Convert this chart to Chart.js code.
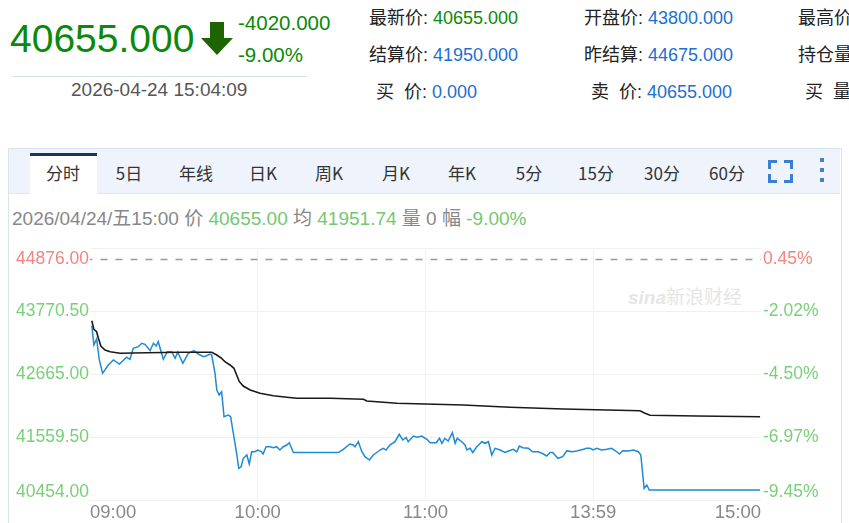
<!DOCTYPE html>
<html>
<head>
<meta charset="utf-8">
<script src="https://cdn.jsdelivr.net/npm/chart.js@4.4.1/dist/chart.umd.min.js"></script>
<style>
  html, body { margin: 0; padding: 0; background: #fff; }
  body { width: 849px; height: 523px; position: relative; overflow: hidden;
         font-family: "Liberation Sans", "Noto Sans CJK SC", sans-serif; }
  .abs { position: absolute; white-space: nowrap; }
  .cn { font-family: "Liberation Sans", "Noto Sans CJK SC", sans-serif; }
  .lab { color: #222; }
  .val { color: #1d6fd1; }
  .up { color: #0a8a0a; }
  #panel { position: absolute; left: 8px; top: 148px; width: 832px; height: 380px;
           border-left: 1px solid #d9e3f0; border-top: 1px solid #d9e3f0; border-right: 1px solid #d9e3f0; }
  #tabs { position: absolute; left: 9px; top: 149px; width: 831px; height: 44px; background: #eef3fc;
          border-bottom: 1px solid #dfe7f2; }
  .tab { position: absolute; top: 160px; font-size: 17px; color: #333; transform: translateX(-50%);
         font-family: "Noto Sans CJK SC", sans-serif; }
  #sel { position: absolute; left: 30px; top: 153px; width: 67px; height: 41px; background: #fff;
         border-top: 3px solid #1b3462; box-sizing: border-box; }
  .corner { position: absolute; width: 6px; height: 6px; border-color: #3a7fd5; border-style: solid; border-width: 0; }
  .dot { position: absolute; left: 820px; width: 4px; height: 4px; background: #4d7fc0; }
  #wrap { position: absolute; left: 8px; top: 236px; width: 841px; height: 287px; }
</style>
</head>
<body>

<!-- quote header -->
<div class="abs up" style="left:10px;top:17px;font-size:39px;">40655.000</div>
<svg class="abs" style="left:200px;top:22px" width="34" height="34" viewBox="0 0 34 34">
  <polygon points="10,0 24,0 24,16 33,16 17,33 1,16 10,16" fill="#1f6402"/>
</svg>
<div class="abs up" style="left:238px;top:11px;font-size:20.5px;">-4020.000</div>
<div class="abs up" style="left:238px;top:43px;font-size:20.5px;">-9.00%</div>
<div class="abs" style="left:12px;top:76px;width:295px;height:1px;background:#d5e0ea;"></div>
<div class="abs" style="left:71px;top:79px;font-size:19px;color:#555;">2026-04-24 15:04:09</div>

<div class="abs cn" style="left:369px;top:3px;font-size:18px;"><span class="lab">最新价: </span><span class="up">40655.000</span></div>
<div class="abs cn" style="left:584px;top:3px;font-size:18px;"><span class="lab">开盘价: </span><span class="val">43800.000</span></div>
<div class="abs cn" style="left:798px;top:3px;font-size:18px;"><span class="lab">最高价</span></div>
<div class="abs cn" style="left:369px;top:40px;font-size:18px;"><span class="lab">结算价: </span><span class="val">41950.000</span></div>
<div class="abs cn" style="left:584px;top:40px;font-size:18px;"><span class="lab">昨结算: </span><span class="val">44675.000</span></div>
<div class="abs cn" style="left:798px;top:40px;font-size:18px;"><span class="lab">持仓量</span></div>
<div class="abs cn" style="left:376px;top:77px;font-size:18px;"><span class="lab">买&nbsp;&nbsp;价: </span><span class="val">0.000</span></div>
<div class="abs cn" style="left:591px;top:77px;font-size:18px;"><span class="lab">卖&nbsp;&nbsp;价: </span><span class="val">40655.000</span></div>
<div class="abs cn" style="left:805px;top:77px;font-size:18px;"><span class="lab">买&nbsp;&nbsp;量</span></div>

<!-- chart panel frame and tabs -->
<div id="panel"></div>
<div id="tabs"></div>
<div id="sel"></div>
<div class="tab" style="left:63px;">分时</div>
<div class="tab" style="left:129px;">5日</div>
<div class="tab" style="left:196px;">年线</div>
<div class="tab" style="left:263px;">日K</div>
<div class="tab" style="left:329px;">周K</div>
<div class="tab" style="left:396px;">月K</div>
<div class="tab" style="left:462px;">年K</div>
<div class="tab" style="left:529px;">5分</div>
<div class="tab" style="left:596px;">15分</div>
<div class="tab" style="left:662px;">30分</div>
<div class="tab" style="left:727px;">60分</div>
<div class="corner" style="left:768px;top:160px;border-left-width:3px;border-top-width:3px;"></div>
<div class="corner" style="left:784px;top:160px;border-right-width:3px;border-top-width:3px;"></div>
<div class="corner" style="left:768px;top:174px;border-left-width:3px;border-bottom-width:3px;"></div>
<div class="corner" style="left:784px;top:174px;border-right-width:3px;border-bottom-width:3px;"></div>
<div class="dot" style="top:158px;"></div>
<div class="dot" style="top:168px;"></div>
<div class="dot" style="top:178px;"></div>

<div class="abs cn" style="left:12px;top:203px;font-size:19px;color:#888;">2026/04/24/五15:00 价 <span style="color:#72c872">40655.00</span> 均 <span style="color:#72c872">41951.74</span> 量 0 幅 <span style="color:#72c872">-9.00%</span></div>

<div class="abs cn" style="left:628px;top:282px;font-size:19px;color:#e6e6e6;"><i style="font-weight:bold">sina</i>新浪财经</div>

<div id="wrap"><canvas id="chart"></canvas></div>

<script>
(function () {
  "use strict";

  // x runs in session minutes; labels sit at the quarter marks
  const X_LABELS = ["09:00", "10:00", "11:00", "13:59", "15:00"];
  const X_MAX = 223.3;

  const Y_TICKS = [40454.00, 41559.50, 42665.00, 43770.50, 44876.00];
  const PREV_SETTLE = 44675;

  // last price (blue)
  const PRICE_T = [0.6, 1.3, 2.2, 3.1, 4.2, 6.1, 7.8, 9.8, 12.2, 13.3, 14.4, 16.1, 17.2, 18.3, 20.0,
    21.1, 22.0, 22.7, 24.4, 25.7, 27.2, 28.3, 29.2, 30.9, 32.7, 34.6, 36.0, 37.7, 38.8, 39.9, 40.5,
    41.6, 42.2, 43.0, 43.8, 44.6, 46.0, 46.8, 47.7, 48.8, 49.5, 50.3, 51.0, 52.2, 53.0, 53.8, 54.9,
    55.8, 57.1, 57.6, 58.6, 59.9, 61.0, 62.1, 63.2, 64.3, 65.5, 66.3, 67.7, 82.6, 84.3, 86.5, 87.6,
    88.2, 89.3, 90.4, 91.5, 93.0, 94.3, 96.5, 97.6, 98.5, 99.8, 101.5, 102.9, 104.1, 105.2, 105.9,
    107.6, 108.9, 110.4, 112.1, 113.2, 115.2, 116.3, 117.1, 118.1, 119.2, 120.6, 121.5, 122.2, 123.7,
    124.8, 125.4, 126.5, 127.4, 128.7, 130.4, 131.5, 132.6, 133.7, 134.8, 136.5, 138.1, 139.5, 140.9,
    142.0, 142.9, 144.0, 145.9, 147.3, 149.2, 150.9, 152.0, 153.1, 154.0, 155.7, 157.3, 158.7, 160.3,
    162.0, 164.2, 165.3, 166.4, 167.5, 168.6, 170.3, 172.0, 173.6, 175.3, 176.2, 177.3, 179.2, 180.8,
    182.5, 183.3, 183.8, 184.4, 185.3, 186.1, 223.0];
  const PRICE_V = [43513, 43174, 43279, 42911, 42677, 42823, 42911, 42840, 42958, 42923, 43116, 43144,
    43204, 43186, 43074, 43204, 43156, 43232, 42923, 43056, 43056, 42940, 43046, 42853, 43028, 43074,
    43016, 42969, 42986, 43016, 42998, 42677, 42384, 42296, 42354, 41916, 41945, 41916, 41624, 41273,
    41010, 41038, 41186, 41244, 41086, 41301, 41301, 41331, 41301, 41261, 41389, 41389, 41372, 41389,
    41331, 41389, 41419, 41459, 41287, 41287, 41344, 41437, 41419, 41389, 41477, 41310, 41214, 41156,
    41244, 41331, 41361, 41331, 41419, 41477, 41607, 41507, 41554, 41477, 41577, 41554, 41577, 41519,
    41459, 41459, 41537, 41449, 41537, 41489, 41635, 41449, 41537, 41477, 41419, 41331, 41361, 41287,
    41389, 41477, 41449, 41477, 41244, 41361, 41331, 41287, 41319, 41344, 41301, 41400, 41372, 41361,
    41301, 41301, 41261, 41226, 41287, 41287, 41186, 41214, 41319, 41301, 41314, 41344, 41361, 41361,
    41331, 41361, 41331, 41344, 41361, 41301, 41261, 41319, 41314, 41331, 41301, 41244, 40980, 40659,
    40717, 40630, 40630];

  // average price (black)
  const AVG_T = [0.6, 1.3, 2.2, 2.8, 3.6, 5.0, 6.7, 10.0, 18.9, 30.0, 40.5, 42.2, 43.8, 44.9, 46.6,
    47.9, 48.8, 49.7, 51.0, 53.3, 56.6, 61.0, 65.5, 68.8, 79.9, 91.0, 92.1, 102.1, 124.2, 139.8,
    157.5, 183.0, 184.7, 186.4, 201.9, 223.0];
  const AVG_V = [43600, 43449, 43407, 43291, 43156, 43086, 43056, 43028, 43039, 43046, 43046, 42998,
    42940, 42881, 42823, 42765, 42647, 42530, 42454, 42384, 42326, 42284, 42256, 42239, 42239, 42221,
    42191, 42151, 42121, 42081, 42051, 42021, 41975, 41940, 41928, 41916];

  const RED = "#f2857f";
  const GREEN = "#78d078";
  const AXIS_FONT = '17.5px "Liberation Sans", sans-serif';

  function pct(v) {
    return ((v - PREV_SETTLE) / PREV_SETTLE * 100).toFixed(2) + "%";
  }

  // side labels: top one hangs below the top edge, bottom one sits on the bottom edge
  const sideLabels = {
    id: "sideLabels",
    afterDraw(chart) {
      const ctx = chart.ctx;
      const y = chart.scales.y;
      const area = chart.chartArea;
      ctx.save();
      ctx.font = AXIS_FONT;
      Y_TICKS.forEach((v, i) => {
        const py = y.getPixelForValue(v);
        ctx.textBaseline = i === Y_TICKS.length - 1 ? "top" : (i === 0 ? "bottom" : "middle");
        const off = i === Y_TICKS.length - 1 ? 2 : (i === 0 ? 1 : 0);
        ctx.fillStyle = v > PREV_SETTLE ? RED : GREEN;
        ctx.textAlign = "right";
        ctx.fillText(v.toFixed(2), area.left - 1, py + off);
        ctx.textAlign = "left";
        ctx.fillText(pct(v), area.right + 2, py + off);
      });
      ctx.restore();
    },
  };

  new Chart(document.getElementById("chart"), {
    type: "line",
    data: {
      datasets: [
        {
          data: [{ x: -1.5, y: PREV_SETTLE }, { x: X_MAX, y: PREV_SETTLE }],
          borderColor: "#9a9a9a",
          borderWidth: 1.5,
          borderDash: [7, 8],
          pointRadius: 0,
        },
        {
          data: AVG_T.map((t, i) => ({ x: t, y: AVG_V[i] })),
          borderColor: "#1a1a1a",
          borderWidth: 1.6,
          pointRadius: 0,
          tension: 0,
        },
        {
          data: PRICE_T.map((t, i) => ({ x: t, y: PRICE_V[i] })),
          borderColor: "#1f8ad6",
          borderWidth: 1.5,
          pointRadius: 0,
          tension: 0,
        },
      ],
    },
    options: {
      responsive: true,
      maintainAspectRatio: false,
      animation: false,
      layout: { padding: { top: 12, left: 0, right: 0, bottom: 0 } },
      plugins: { legend: { display: false }, tooltip: { enabled: false } },
      scales: {
        x: {
          type: "linear",
          min: 0,
          max: X_MAX,
          afterBuildTicks(scale) {
            scale.ticks = X_LABELS.map((l, i) => ({ value: i * X_MAX / 4 }));
          },
          afterFit(scale) { scale.height = 23; },
          ticks: {
            autoSkip: false,
            maxRotation: 0,
            align: "inner",
            padding: 2,
            color: "#888",
            font: { family: '"Liberation Sans", sans-serif', size: 18.5 },
            callback: (v, i) => X_LABELS[i],
          },
          grid: {
            drawTicks: false,
            color: (c) => (c.index === 0 || c.index === X_LABELS.length - 1 ? "rgba(0,0,0,0)" : "#f0f0f0"),
          },
          border: { display: false },
        },
        y: {
          min: Y_TICKS[0],
          max: Y_TICKS[Y_TICKS.length - 1],
          afterBuildTicks(scale) {
            scale.ticks = Y_TICKS.map((v) => ({ value: v }));
          },
          afterFit(scale) { scale.width = 82; },
          ticks: { display: false },
          grid: { drawTicks: false, color: "#f0f0f0" },
          border: { display: false },
        },
        y1: {
          position: "right",
          min: Y_TICKS[0],
          max: Y_TICKS[Y_TICKS.length - 1],
          afterFit(scale) { scale.width = 88; },
          ticks: { display: false },
          grid: { display: false },
          border: { display: false },
        },
      },
    },
    plugins: [sideLabels],
  });
})();
</script>
</body>
</html>
